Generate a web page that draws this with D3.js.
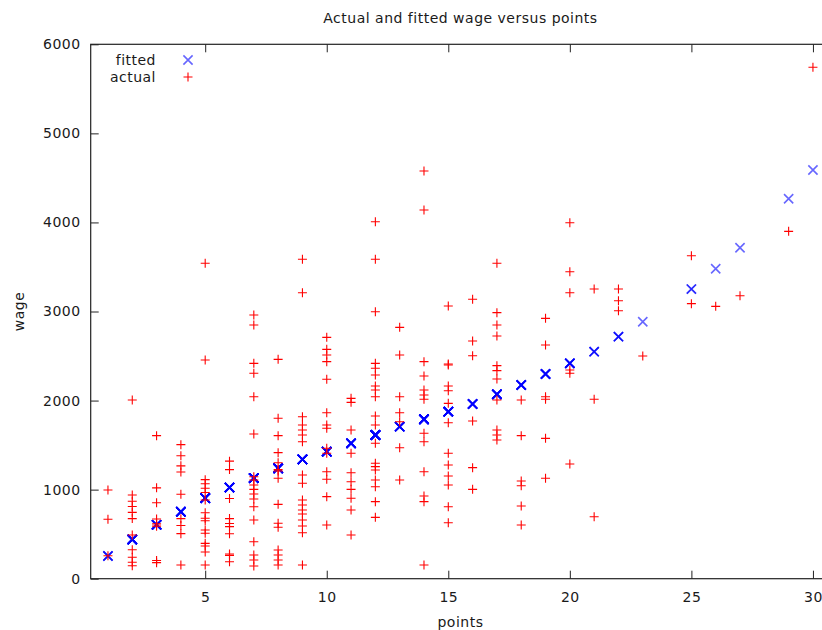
<!DOCTYPE html>
<html>
<head>
<meta charset="utf-8">
<script src="https://cdn.jsdelivr.net/npm/d3@7"></script>
<style>
  html, body { margin: 0; padding: 0; background: #fff; }
  svg { display: block; }
  text { font-family: "DejaVu Sans", Verdana, sans-serif; font-size: 14px; fill: #1a1a1a; letter-spacing: 0.5px; }
</style>
</head>
<body>
<svg id="chart" width="822" height="630"></svg>
<script>
// ---------- data ----------
const titleText = "Actual and fitted wage versus points";
const xLabel = "points";
const yLabel = "wage";
const xTicks = [5, 10, 15, 20, 25, 30];
const yTicks = [0, 1000, 2000, 3000, 4000, 5000, 6000];
const legendLabels = ["fitted", "actual"];

// distinct values of points
const points = [1, 2, 3, 4, 5, 6, 7, 8, 9, 10, 11, 12, 13, 14, 15, 16, 17, 18, 19, 20, 21, 22, 23, 25, 26, 27, 29, 30];

// fitted wage at each value of points
const fittedWage = [255, 440, 605, 752, 905, 1024, 1130, 1240, 1340, 1426, 1520, 1613, 1707, 1790, 1875, 1961, 2070, 2175, 2298, 2418, 2549, 2717, 2885, 3252, 3480, 3716, 4266, 4589];

// actual wage observations at each value of points
const actualWage = [
  [996, 667, 258],
  [2006, 940, 870, 810, 745, 675, 490, 325, 240, 185, 145],
  [1606, 1020, 853, 670, 615, 590, 205, 180],
  [1505, 1381, 1267, 1198, 949, 674, 598, 506, 154],
  [3541, 2455, 1112, 1066, 1016, 968, 884, 741, 678, 650, 547, 510, 397, 367, 300, 154],
  [1320, 1225, 900, 675, 620, 585, 505, 277, 262, 191],
  [2961, 2848, 2418, 2306, 2043, 1625, 1145, 1108, 1052, 1003, 951, 895, 808, 659, 415, 266, 210, 143],
  [2463, 1801, 1606, 1415, 1302, 1225, 1210, 1127, 835, 622, 577, 322, 266, 210, 154],
  [3586, 3211, 1819, 1726, 1670, 1613, 1538, 1164, 1071, 884, 827, 771, 726, 659, 592, 516, 154],
  [2710, 2575, 2512, 2437, 2239, 1864, 1726, 1689, 1464, 1408, 1201, 1116, 921, 603],
  [2025, 1980, 1670, 1408, 1190, 1089, 1003, 903, 771, 490],
  [4008, 3586, 2998, 2418, 2362, 2287, 2163, 2119, 2043, 1827, 1726, 1520, 1296, 1258, 1220, 1108, 1033, 865, 689],
  [2822, 2512, 2043, 1864, 1763, 1471, 1108],
  [4577, 4140, 2437, 2276, 2119, 2063, 2014, 1633, 1538, 1201, 929, 865, 154],
  [3062, 2411, 2400, 2163, 2111, 1969, 1751, 1408, 1276, 1153, 1052, 808, 629],
  [3137, 2669, 2504, 1771, 1247, 1003],
  [3541, 2987, 2848, 2725, 2392, 2336, 2242, 2006, 1670, 1613, 1557],
  [2006, 1606, 1097, 1044, 816, 603],
  [2923, 2624, 2043, 2014, 1576, 1127],
  [3997, 3447, 3211, 2343, 2306, 1288],
  [3253, 2014, 696],
  [3253, 3121, 3009],
  [2500],
  [3626, 3088],
  [3058],
  [3177],
  [3900],
  [5742]
];

(function () {
  // ---------- layout ----------
  const svg = d3.select("#chart");
  const mLeft = 90.7, mRight = 830.2, mTop = 44.3, mBottom = 578.7;

  const x = d3.scaleLinear().domain([0.29, 30.71]).range([mLeft, mRight]);
  const y = d3.scaleLinear().domain([0, 6000]).range([mBottom, mTop]);

  const axisColor = "#222";
  const tick = 8;

  const gB = svg.append("g").attr("transform", `translate(0,${mBottom})`)
    .call(d3.axisBottom(x).tickValues(xTicks).tickSizeInner(-tick).tickSizeOuter(0).tickPadding(13).tickFormat(d3.format("d")));
  const gT = svg.append("g").attr("transform", `translate(0,${mTop})`)
    .call(d3.axisTop(x).tickValues(xTicks).tickSizeInner(-tick).tickSizeOuter(0).tickFormat(""));
  const gL = svg.append("g").attr("transform", `translate(${mLeft},0)`)
    .call(d3.axisLeft(y).tickValues(yTicks).tickSizeInner(-tick).tickSizeOuter(0).tickPadding(10).tickFormat(d3.format("d")));
  const gR = svg.append("g").attr("transform", `translate(${mRight},0)`)
    .call(d3.axisRight(y).tickValues(yTicks).tickSizeInner(-tick).tickSizeOuter(0).tickFormat(""));

  [gB, gT, gL, gR].forEach(g => {
    g.select(".domain").remove();
    g.selectAll(".tick line").attr("stroke", axisColor).attr("stroke-width", 1);
    g.attr("font-family", null).attr("font-size", null);
    g.selectAll("text").attr("fill", "#1a1a1a");
  });

  svg.append("rect")
    .attr("x", mLeft).attr("y", mTop)
    .attr("width", mRight - mLeft).attr("height", mBottom - mTop)
    .attr("fill", "none").attr("stroke", axisColor).attr("stroke-width", 1.2);

  svg.append("text").attr("x", (mLeft + mRight) / 2).attr("y", 23)
    .attr("text-anchor", "middle").text(titleText);
  svg.append("text").attr("x", (mLeft + mRight) / 2).attr("y", 627)
    .attr("text-anchor", "middle").text(xLabel);
  svg.append("text").attr("transform", `translate(24,${(mTop + mBottom) / 2}) rotate(-90)`)
    .attr("text-anchor", "middle").text(yLabel);

  const plusR = 4.5, crossR = 4.6;
  const plusPath = (cx, cy) => `M${cx - plusR},${cy}H${cx + plusR}M${cx},${cy - plusR}V${cy + plusR}`;
  const crossPath = (cx, cy) => `M${cx - crossR},${cy - crossR}L${cx + crossR},${cy + crossR}M${cx - crossR},${cy + crossR}L${cx + crossR},${cy - crossR}`;

  const actualObs = [];
  points.forEach((p, i) => actualWage[i].forEach(w => actualObs.push({ p, w })));
  const fittedObs = [];
  points.forEach((p, i) => actualWage[i].forEach(() => fittedObs.push({ p, w: fittedWage[i] })));

  svg.append("g").selectAll("path").data(fittedObs).join("path")
    .attr("d", d => crossPath(x(d.p), y(d.w)))
    .attr("stroke", "#0000ff").attr("stroke-opacity", 0.6).attr("stroke-width", 1.6).attr("fill", "none");

  svg.append("g").selectAll("path").data(actualObs).join("path")
    .attr("d", d => plusPath(x(d.p), y(d.w)))
    .attr("stroke", "#ff0000").attr("stroke-width", 1.1).attr("fill", "none");

  const legend = svg.append("g");
  const legendY = [60, 77];
  legend.selectAll("text").data(legendLabels).join("text")
    .attr("x", 156).attr("y", (d, i) => legendY[i] + 5)
    .attr("text-anchor", "end").text(d => d);
  legend.append("path").attr("d", crossPath(188, legendY[0]))
    .attr("stroke", "#0000ff").attr("stroke-opacity", 0.6).attr("stroke-width", 1.6).attr("fill", "none");
  legend.append("path").attr("d", plusPath(188, legendY[1]))
    .attr("stroke", "#ff0000").attr("stroke-width", 1.1).attr("fill", "none");
})();
</script>
</body>
</html>
